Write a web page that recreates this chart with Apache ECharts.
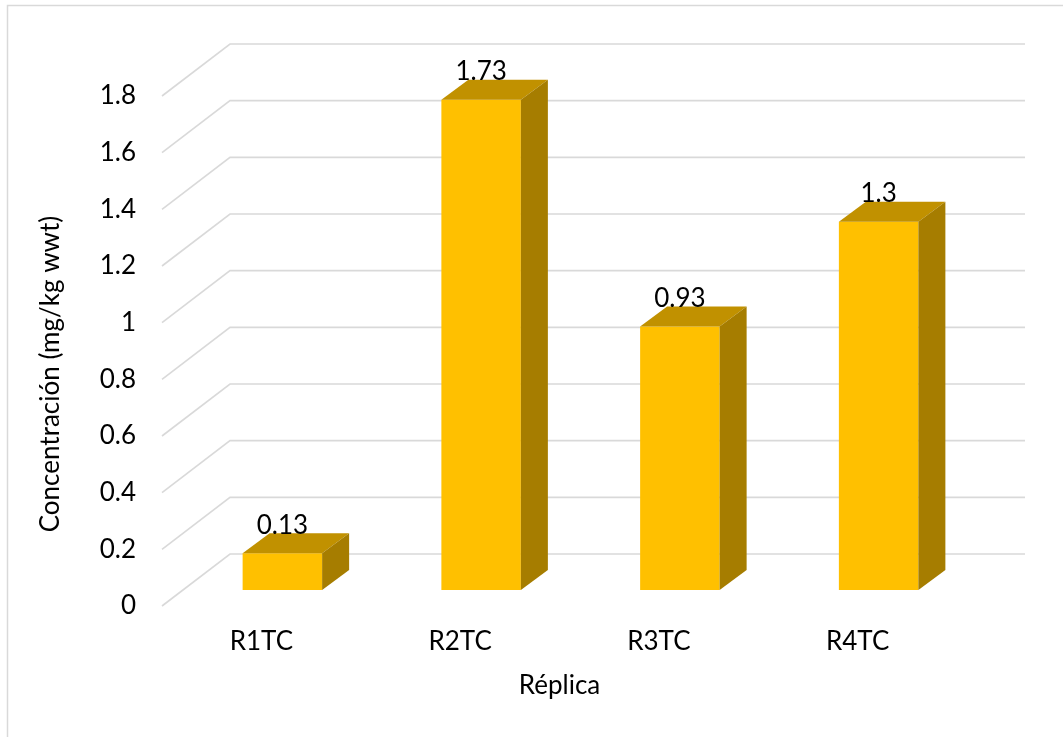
<!DOCTYPE html>
<html>
<head>
<meta charset="utf-8">
<script src="https://cdn.jsdelivr.net/npm/echarts@6/dist/echarts.min.js"></script>
<style>
  html, body { margin: 0; padding: 0; background: #fff; }
  #chart { width: 1063px; height: 737px; }
</style>
</head>
<body>
<div id="chart"></div>
<script>
// Replicates and measured concentrations
const categories = ['R1TC', 'R2TC', 'R3TC', 'R4TC'];
const values = [0.13, 1.73, 0.93, 1.3];
// Value-axis ticks (each gets a gridline on the walls)
const yTicks = [0, 0.2, 0.4, 0.6, 0.8, 1, 1.2, 1.4, 1.6, 1.8];

const FONT = 'Lato, "Open Sans", sans-serif';
const FONT_SIZE = 26;

// Oblique projection used for the 3D look
const WALL_DX = 68, WALL_DY = -52;   // front edge -> back wall
const BAR_OX = 21, BAR_OY = -16;     // front edge -> bar front face
const BAR_DX = 27, BAR_DY = -20;     // bar depth

const FRONT = '#FFC000', TOP = '#C19100', SIDE = '#A67D00';
const GRID_COLOR = '#D9D9D9';

const chart = echarts.init(document.getElementById('chart'), null, { renderer: 'canvas' });

function renderGridLine(params, api) {
  const cs = params.coordSys;
  const y = api.coord([0, api.value(1)])[1];
  const x0 = cs.x, x1 = cs.x + cs.width;
  return {
    type: 'polyline',
    shape: { points: [[x0, y], [x0 + WALL_DX, y + WALL_DY], [x1 + WALL_DX, y + WALL_DY]] },
    style: { stroke: GRID_COLOR, lineWidth: 1.6, fill: null }
  };
}

function renderBar(params, api) {
  const i = api.value(0), v = api.value(1);
  const base = api.coord([i, 0]);
  const top = api.coord([i, v]);
  const band = api.size([1, 0])[0];
  const w = band * 0.4;
  const xl = base[0] - w / 2 + BAR_OX, xr = xl + w;
  const yb = base[1] + BAR_OY, yt = top[1] + BAR_OY;
  return {
    type: 'group',
    children: [
      { type: 'rect', shape: { x: xl, y: yt, width: w, height: yb - yt }, style: { fill: FRONT } },
      { type: 'polygon', shape: { points: [[xl, yt], [xr, yt], [xr + BAR_DX, yt + BAR_DY], [xl + BAR_DX, yt + BAR_DY]] }, style: { fill: TOP } },
      { type: 'polygon', shape: { points: [[xr, yt], [xr + BAR_DX, yt + BAR_DY], [xr + BAR_DX, yb + BAR_DY], [xr, yb]] }, style: { fill: SIDE } },
      { type: 'text', z2: 10, style: { text: String(v), x: (xl + xr) / 2, y: yt - 28, align: 'center', verticalAlign: 'middle', font: FONT_SIZE + 'px ' + FONT, fill: '#000' } }
    ]
  };
}

const option = {
  animation: false,
  backgroundColor: '#fff',
  textStyle: { fontFamily: FONT },
  grid: { left: 162, right: 106, top: 96, bottom: 131 },
  xAxis: {
    type: 'category',
    data: categories,
    boundaryGap: true,
    axisLine: { show: false },
    axisTick: { show: false },
    axisLabel: { margin: 23, fontSize: FONT_SIZE, color: '#000', fontFamily: FONT },
    name: 'Réplica',
    nameLocation: 'middle',
    nameGap: 67,
    nameTextStyle: { fontSize: FONT_SIZE, color: '#000', fontFamily: FONT }
  },
  yAxis: {
    type: 'value',
    min: 0,
    max: 1.8,
    interval: 0.2,
    axisLine: { show: false },
    axisTick: { show: false },
    splitLine: { show: false },
    axisLabel: { margin: 26, fontSize: FONT_SIZE, color: '#000', fontFamily: FONT }
  },
  graphic: [
    { type: 'rect', shape: { x: 7.5, y: 5.5, width: 1200, height: 900 }, style: { fill: null, stroke: GRID_COLOR, lineWidth: 1.5 }, silent: true, z: -10 },
    { type: 'text', x: 51, y: 374, rotation: Math.PI / 2, style: { text: 'Concentración (mg/kg wwt)', font: FONT_SIZE + 'px ' + FONT, fill: '#000', align: 'center', verticalAlign: 'middle' } }
  ],
  series: [
    { type: 'custom', name: 'grid', clip: false, silent: true, z: 1, renderItem: renderGridLine, data: yTicks.map(v => [0, v]) },
    { type: 'custom', name: 'Concentración', clip: false, z: 5, renderItem: renderBar, data: values.map((v, i) => [i, v]) }
  ]
};

chart.setOption(option);
</script>
</body>
</html>
